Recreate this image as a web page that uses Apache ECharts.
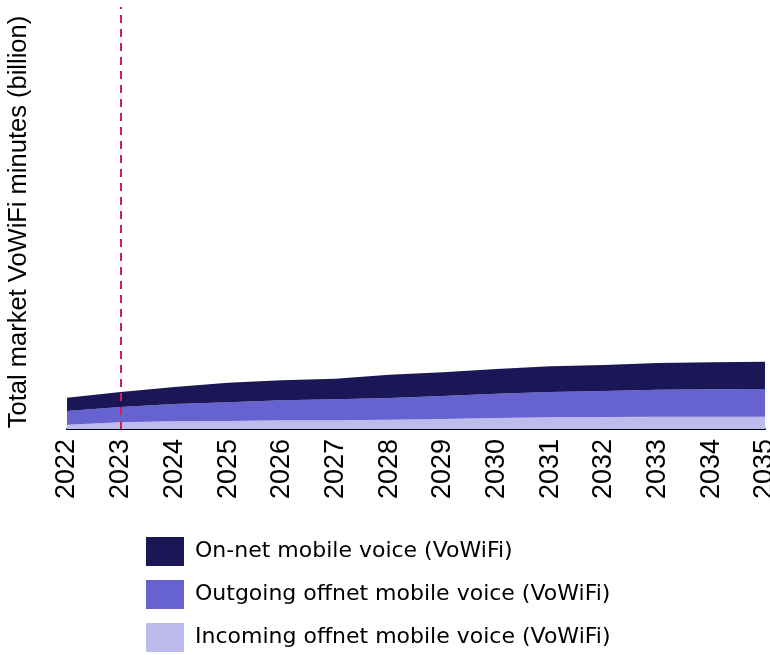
<!DOCTYPE html>
<html>
<head>
<meta charset="utf-8">
<title>VoWiFi minutes</title>
<script src="https://cdn.jsdelivr.net/npm/echarts@6/dist/echarts.min.js"></script>
<style>
  html, body { margin: 0; padding: 0; background: #fff; }
  #chart { width: 770px; height: 655px; }
</style>
</head>
<body>
<div id="chart"></div>
<script>
// years on the x axis
const years = ['2022', '2023', '2024', '2025', '2026', '2027', '2028',
  '2029', '2030', '2031', '2032', '2033', '2034', '2035']
// stacked values (no scale shown)
const incoming = [4.3, 6.7, 7.7, 8.0, 8.7, 8.7, 9.3, 10.0, 11.0, 11.7, 12.0, 12.3, 12.3, 12.3]
const outgoing = [13.7, 15.3, 17.3, 18.7, 20.0, 21.0, 21.7, 23.0, 24.3, 25.3, 26.0, 27.0, 27.4, 27.7]
const onNet = [13.3, 15.0, 17.0, 19.6, 20.0, 20.6, 23.3, 23.7, 24.7, 25.7, 26.0, 26.7, 27.0, 27.3]
// forecast start marker
const markYear = '2023'

const chart = echarts.init(document.getElementById('chart'))

const fontAxis = 'Liberation Sans, Arial, sans-serif'
const fontLegend = 'DejaVu Sans, sans-serif'

//one area series per layer, bottom layer first
function layer(name, data, color) {
  return {
    name: name,
    type: 'line',
    stack: 'total',
    data: data,
    showSymbol: false,
    symbol: 'none',
    lineStyle: { width: 0 },
    areaStyle: { color: color, opacity: 1 },
    itemStyle: { color: color },
  }
}

const series = [
  layer('Incoming offnet mobile voice (VoWiFi)', incoming, '#bdbbec'),
  layer('Outgoing offnet mobile voice (VoWiFi)', outgoing, '#6663d0'),
  layer('On-net mobile voice (VoWiFi)', onNet, '#1b1757'),
]
//red dashed line on the first forecast year
series[0].markLine = {
  silent: true,
  symbol: 'none',
  label: { show: false },
  lineStyle: { color: '#d4204a', type: [8, 6], width: 2 },
  data: [{ xAxis: markYear }],
}

chart.setOption({
  animation: false,
  grid: { left: 67, right: 5, top: 7, bottom: 226, outerBoundsMode: 'none' },
  xAxis: {
    type: 'category',
    data: years,
    boundaryGap: false,
    axisLine: { lineStyle: { color: '#000', width: 2 } },
    axisTick: { show: false },
    axisLabel: {
      rotate: 90,
      margin: 10,
      color: '#000',
      fontSize: 27,
      fontFamily: fontAxis,
    },
  },
  yAxis: {
    type: 'value',
    min: 0,
    max: 422,
    axisLine: { show: false },
    axisTick: { show: false },
    axisLabel: { show: false },
    splitLine: { show: false },
    name: 'Total market VoWiFi minutes (billion)',
    nameLocation: 'middle',
    nameGap: 35,
    nameTextStyle: {
      color: '#000',
      fontSize: 25.5,
      fontFamily: fontAxis,
      padding: [0, 8, 0, 0],
    },
  },
  legend: {
    orient: 'vertical',
    left: 146,
    top: 537,
    padding: 0,
    itemWidth: 38,
    itemHeight: 29,
    itemGap: 14,
    icon: 'rect',
    data: [
      'On-net mobile voice (VoWiFi)',
      'Outgoing offnet mobile voice (VoWiFi)',
      'Incoming offnet mobile voice (VoWiFi)',
    ],
    textStyle: { color: '#000', fontSize: 22, fontFamily: fontLegend, padding: [0, 0, 0, 6] },
  },
  series: series,
})
</script>
</body>
</html>
